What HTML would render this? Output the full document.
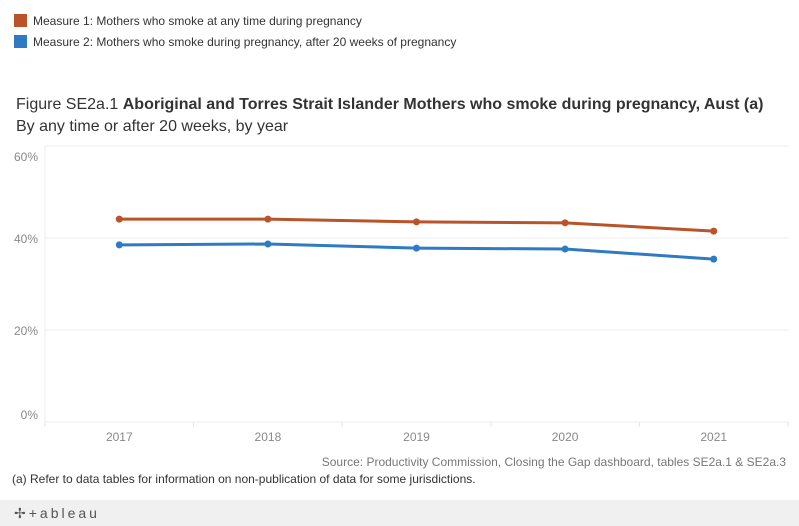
<!DOCTYPE html>
<html><head><meta charset="utf-8"><style>
body{margin:0;width:799px;height:526px;background:#fff;font-family:"Liberation Sans",sans-serif;position:relative;overflow:hidden}
.t{position:absolute;white-space:nowrap}
</style></head><body>
<div class="t" style="left:14px;top:14px;font-size:12px;color:#333"><span style="display:inline-block;width:13px;height:13px;background:#b9542a;vertical-align:-2px;margin-right:6px"></span>Measure 1: Mothers who smoke at any time during pregnancy</div>
<div class="t" style="left:14px;top:35px;font-size:12px;color:#333"><span style="display:inline-block;width:13px;height:13px;background:#2e7ac3;vertical-align:-2px;margin-right:6px"></span>Measure 2: Mothers who smoke during pregnancy, after 20 weeks of pregnancy</div>
<div class="t" style="left:16px;top:96px;font-size:16px;color:#333">Figure SE2a.1 <span style="font-weight:bold">Aboriginal and Torres Strait Islander Mothers who smoke during pregnancy, Aust (a)</span></div>
<div class="t" style="left:16px;top:118px;font-size:16px;color:#333">By any time or after 20 weeks, by year</div>
<svg id="c" width="799" height="460" style="position:absolute;left:0;top:0"></svg>
<div class="t" style="right:13px;top:455px;font-size:12px;color:#777">Source: Productivity Commission, Closing the Gap dashboard, tables SE2a.1 &amp; SE2a.3</div>
<div class="t" style="left:12px;top:472px;font-size:12px;color:#333">(a) Refer to data tables for information on non-publication of data for some jurisdictions.</div>
<div style="position:absolute;left:0;top:500px;width:799px;height:26px;background:#f0f0f0"></div>
<div class="t" style="left:14px;top:505px;font-size:14px;color:#555;letter-spacing:3px">✢+ableau</div>
<script>
const years=["2017","2018","2019","2020","2021"];
const measure1=[44.1,44.1,43.5,43.3,41.5];
const measure2=[38.5,38.7,37.8,37.6,35.4];
const yTicks=[0,20,40,60];
const svg=document.getElementById('c');const NS='http://www.w3.org/2000/svg';
const L=45,R=788,T=146,B=422;
const x=i=>L+(R-L)/years.length*(i+0.5);
const y=v=>B-(v/60)*(B-T);
function mk(t,a){const e=document.createElementNS(NS,t);for(const k in a)e.setAttribute(k,a[k]);svg.appendChild(e);return e;}
yTicks.forEach(v=>{const g=mk('line',{x1:L,x2:R,y1:y(v),y2:y(v),stroke:'#eeeeee'});


let ly=y(v)+5; if(v===60) ly+=10; if(v===0) ly-=8;
const t=mk('text',{x:38,y:ly,'text-anchor':'end','font-size':12,fill:'#888','font-family':'Liberation Sans, sans-serif'});t.textContent=v+'%';

});
mk('line',{x1:L,x2:L,y1:T,y2:B,stroke:'#eeeeee'});
for(let i=0;i<=years.length;i++){mk('line',{x1:L+(R-L)/years.length*i,x2:L+(R-L)/years.length*i,y1:B,y2:B+5,stroke:'#e6e6e6'});}
years.forEach((yr,i)=>{const t=mk('text',{x:x(i),y:441,'text-anchor':'middle','font-size':12,fill:'#888','font-family':'Liberation Sans, sans-serif'});t.textContent=yr;

});
[[measure1,'#b9542a','measure-1'],[measure2,'#2e7ac3','measure-2']].forEach(([d,c,n])=>{
const p=mk('polyline',{points:d.map((v,i)=>x(i)+','+y(v)).join(' '),fill:'none',stroke:c,'stroke-width':3});


d.forEach((v,i)=>{const m=mk('circle',{cx:x(i),cy:y(v),r:3.5,fill:c});

});});
</script>
</body></html>
